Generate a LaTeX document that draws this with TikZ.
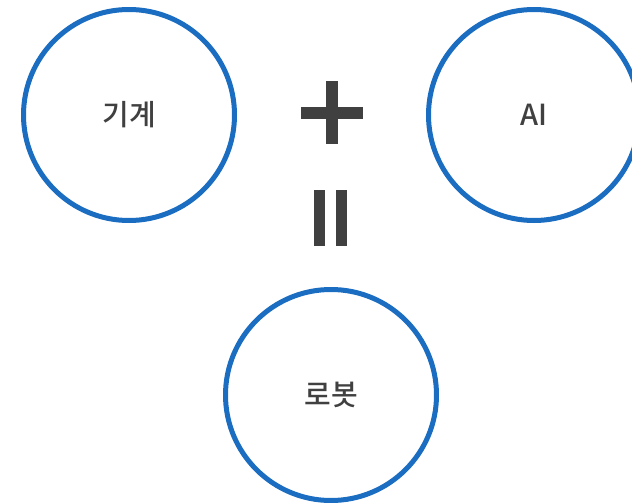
\documentclass[tikz,border=0pt]{standalone}
\usepackage{fontspec}
\setmainfont{Noto Sans CJK KR}[UprightFont=* Medium]
\usepackage{tikz}
\definecolor{ringblue}{HTML}{1A6DC0}
\definecolor{signgray}{HTML}{404040}
\tikzset{
  every picture/.style={line join=round, x=1pt, y=-1pt},
  ring/.style={circle, draw=ringblue, line width=5pt, minimum size=211pt, inner sep=0pt,
    text=signgray, font=\fontsize{29}{34}\selectfont},
  sign/.style={fill=signgray, draw=none},
}
\begin{document}
\begin{tikzpicture}
\useasboundingbox (0,0) rectangle (632,503);
\node[ring] (mech) at (129,115) {기계};
\node[ring] (ai) at (534,115) {AI};
\node[ring] (robot) at (331,395) {로봇};
% plus
\fill[sign] (325.5,81) rectangle (337.5,144);
\fill[sign] (300.5,106.5) rectangle (362.5,118.5);
% equals (standing)
\fill[sign] (313.5,190) rectangle (324.5,246);
\fill[sign] (336,190) rectangle (347,246);
\end{tikzpicture}
\end{document}
